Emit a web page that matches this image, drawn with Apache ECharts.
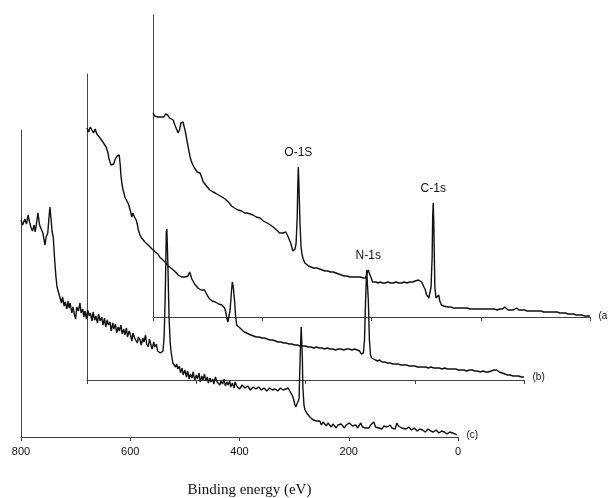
<!DOCTYPE html>
<html><head><meta charset="utf-8">
<script src="https://cdn.jsdelivr.net/npm/echarts@6/dist/echarts.min.js"></script>
<style>html,body{margin:0;padding:0;background:#fff}#c{width:608px;height:498px}</style>
</head><body><div id="c"></div>
<script>
// Binding energy axis ticks (eV)
const energyTicks = [0, 200, 400, 600, 800];
const traceNames = ['(a)', '(b)', '(c)'];

// [binding energy (eV), intensity (a.u.)]
const traceA = [[800,204],[797,201],[794,203],[791,200],[787,200],[784,202],[780,200],[777,203],[773,202],[770,199],[767,200],[763,197],[760,192],[757,188],[754,184],[751,188],[749,194],[747,196],[745,195],[743,194],[741,186],[738,177],[735,168],[732,160],[730,156],[727,152],[724,149],[722,147],[719,145],[716,146],[714,144],[711,140],[708,135],[705,133],[702,131],[699,129],[696,127],[693,126],[690,125],[686,124],[683,123],[680,122],[677,122],[674,120],[671,119],[668,118],[665,117],[662,115],[659,114],[656,111],[654,110],[651,109],[648,108],[644,107],[641,107],[638,106],[635,105],[632,104],[628,104],[625,103],[622,103],[619,102],[617,102],[614,101],[611,100],[608,100],[604,99],[601,97],[598,96],[595,95],[591,94],[588,93],[585,92],[582,91],[580,90],[577,88],[574,87],[571,86],[568,84],[565,85],[562,84],[559,86],[557,85],[554,82],[551,80],[548,74],[546,70],[544,66],[542,64],[540,68],[538,74],[536,100],[535,130],[534,150],[533,135],[531,95],[529,70],[527,62],[525,58],[522,54],[519,52],[515,51],[511,50],[506,49],[500,49],[495,48],[490,47],[485,46],[480,46],[475,45],[470,45],[465,44],[460,43],[455,42],[450,41],[445,41],[440,40],[435,40],[430,40],[425,40],[420,40],[415,39],[411,39],[408,38],[406,47],[404,44],[402,41],[400,39],[398,35],[396,34],[392,35],[388,34],[384,35],[380,34],[375,34],[370,35],[365,34],[360,34],[355,35],[350,34],[345,34],[340,35],[335,34],[330,35],[325,35],[320,36],[317,35],[314,37],[311,37],[308,35],[305,31],[302,28],[299,22],[297,20],[295,19],[293,21],[291,30],[289,60],[288,100],[287,114],[286,95],[285,60],[284,30],[282,19],[279,20],[277,22],[275,16],[272,12],[268,11],[265,10],[260,10],[255,10],[250,9],[245,9],[240,9],[235,9],[230,9],[225,9],[220,8],[215,8],[210,8],[205,8],[200,8],[195,8],[190,8],[185,8],[180,8],[175,8],[170,7],[165,8],[160,8],[156,10],[153,8],[150,7],[145,7],[140,7],[134,9],[130,7],[125,7],[120,7],[115,6],[110,6],[105,6],[100,6],[95,6],[90,6],[85,5],[80,5],[75,5],[70,5],[65,5],[60,5],[55,4],[50,4],[45,4],[40,3],[35,3],[30,3],[25,2],[20,2],[15,2],[10,1],[5,1],[0,1]];

const traceB = [[800,252],[797,248],[794,253],[791,250],[788,247],[785,251],[782,246],[779,244],[776,242],[773,240],[771,238],[768,236],[765,233],[762,228],[760,222],[758,218],[756,215],[754,213],[751,216],[749,220],[747,222],[745,224],[743,226],[741,225],[739,214],[738,205],[736,196],[734,190],[732,186],[730,182],[728,180],[725,177],[723,174],[720,168],[718,163],[716,167],[714,164],[712,162],[710,160],[708,156],[706,150],[703,145],[700,142],[697,140],[694,138],[691,136],[688,135],[685,133],[681,131],[678,130],[675,128],[672,127],[670,126],[667,123],[664,122],[661,120],[657,118],[654,116],[651,114],[648,113],[644,111],[641,109],[638,108],[635,107],[633,105],[630,104],[627,103],[624,103],[621,103],[618,101],[615,104],[612,108],[610,106],[608,101],[606,99],[603,96],[600,95],[597,92],[594,91],[591,90],[588,88],[585,90],[582,87],[580,86],[577,82],[574,80],[571,79],[568,81],[565,78],[562,77],[559,76],[556,76],[553,75],[550,73],[548,72],[546,68],[544,62],[542,58],[540,60],[538,70],[536,85],[534,98],[532,92],[530,80],[528,64],[526,55],[524,53],[520,52],[516,50],[512,48],[508,47],[504,46],[500,45],[495,44],[490,43],[485,43],[480,42],[475,42],[470,41],[465,40],[460,40],[455,39],[450,38],[445,38],[440,37],[435,37],[430,36],[425,36],[420,35],[415,35],[410,34],[405,34],[400,34],[395,33],[390,33],[385,32],[380,33],[375,32],[370,32],[365,31],[360,32],[355,31],[350,31],[345,30],[340,31],[335,31],[330,30],[325,31],[320,31],[315,30],[310,31],[305,30],[301,29],[298,26],[296,24],[294,27],[292,40],[290,80],[288,110],[286,112],[285,80],[283,40],[281,25],[279,22],[276,21],[272,20],[268,19],[264,20],[260,18],[255,18],[250,17],[245,17],[240,16],[235,16],[230,16],[225,15],[220,15],[215,15],[210,14],[205,14],[200,14],[195,13],[190,13],[185,13],[180,13],[175,12],[170,13],[165,12],[160,12],[155,12],[150,11],[145,12],[140,11],[135,11],[130,11],[125,11],[120,10],[115,10],[110,10],[105,9],[100,10],[95,10],[90,9],[85,9],[80,8],[75,9],[70,8],[65,8],[60,9],[55,10],[50,10],[45,8],[40,7],[35,6],[30,5],[25,5],[20,4],[15,4],[10,4],[5,3],[0,3]];

const traceC = [[800,217],[797,212],[793,218],[790,213],[787,222],[784,214],[782,210],[779,206],[776,212],[774,205],[771,216],[769,224],[766,212],[763,214],[760,204],[758,198],[756,192],[754,200],[751,204],[749,218],[747,230],[745,218],[743,205],[741,200],[738,174],[736,160],[734,150],[731,144],[729,140],[726,134],[724,140],[721,131],[719,135],[716,128],[714,136],[712,129],[710,134],[707,124],[705,130],[702,122],[700,118],[698,130],[695,126],[692,134],[690,124],[687,128],[685,120],[683,126],[680,118],[678,127],[675,121],[673,124],[670,116],[668,125],[665,117],[663,121],[660,114],[658,123],[655,116],[652,120],[650,112],[647,119],[645,110],[642,117],[640,112],[637,115],[635,106],[632,114],[630,108],[627,113],[625,104],[622,110],[620,106],[617,112],[615,103],[612,108],[610,102],[607,109],[605,100],[602,106],[600,103],[597,96],[595,104],[592,99],[590,101],[587,94],[585,100],[582,97],[580,92],[577,99],[575,95],[572,102],[570,93],[567,90],[565,98],[562,92],[560,88],[557,95],[555,90],[552,93],[550,86],[547,88],[545,84],[542,82],[540,86],[538,100],[536,140],[534,205],[533,208],[531,170],[529,120],[527,95],[525,84],[522,74],[520,76],[517,70],[515,73],[513,68],[510,71],[508,64],[505,69],[503,62],[500,67],[497,60],[495,66],[492,58],[490,63],[487,59],[485,65],[482,57],[479,62],[477,58],[474,64],[472,55],[469,61],[467,57],[464,63],[462,56],[459,60],[457,54],[454,59],[452,55],[449,58],[447,53],[444,60],[441,55],[439,57],[436,52],[434,56],[431,53],[428,58],[426,51],[423,55],[421,52],[418,56],[416,50],[413,54],[410,49],[408,55],[405,51],[403,53],[400,48],[395,52],[390,49],[385,51],[380,47],[375,50],[370,48],[365,50],[360,47],[355,49],[350,46],[345,49],[340,47],[335,48],[330,46],[325,49],[320,47],[315,48],[311,49],[308,46],[305,45],[302,40],[299,33],[297,30],[294,32],[291,38],[289,80],[287,110],[285,80],[284,50],[282,32],[280,27],[277,24],[274,22],[271,20],[268,21],[265,17],[262,19],[259,16],[256,14],[253,16],[250,12],[247,15],[244,13],[241,11],[238,14],[235,12],[232,10],[229,13],[226,11],[223,9],[220,12],[217,10],[214,13],[211,11],[208,9],[205,12],[202,10],[199,14],[196,15],[193,11],[190,10],[187,12],[184,9],[181,11],[178,14],[175,10],[172,12],[169,9],[166,11],[163,9],[160,12],[157,14],[154,15],[151,10],[148,11],[145,9],[142,10],[139,8],[136,11],[133,9],[130,10],[127,8],[124,12],[121,9],[118,10],[115,8],[112,14],[109,11],[106,10],[103,9],[100,11],[95,8],[90,10],[85,7],[80,9],[75,6],[70,8],[65,7],[60,5],[55,8],[50,6],[45,5],[40,7],[35,4],[30,6],[25,5],[20,3],[15,5],[10,4],[5,3],[2,2]];

// Peak annotations on trace (a)
const peakNames = ['O-1S', 'N-1s', 'C-1s'];
const peakEnergies = [534, 406, 287];
const peakIntensities = [150, 47, 114];

const traces = [traceA, traceB, traceC];
const gridBoxes = [
  {left: 153, top: 15, width: 437, height: 302},
  {left: 87, top: 74, width: 437, height: 306},
  {left: 21, top: 130, width: 437, height: 307}
];
const sansFont = '"Liberation Sans", Arial, sans-serif';
const serifFont = '"Liberation Serif", "Times New Roman", serif';
const axisColor = '#444';

const chart = echarts.init(document.getElementById('c'), null, {renderer: 'canvas'});

const xAxes = gridBoxes.map((g, i) => ({
  type: 'value', gridIndex: i, min: energyTicks[0], max: energyTicks[energyTicks.length - 1],
  interval: 200, inverse: true,
  axisLine: {show: true, onZero: false, lineStyle: {color: axisColor, width: 1}},
  axisTick: {show: true, length: 4, lineStyle: {color: axisColor}},
  axisLabel: {show: i === 2, color: '#111', fontFamily: sansFont, fontSize: 11, margin: 9},
  splitLine: {show: false},
  name: i === 2 ? 'Binding energy (eV)' : '',
  nameLocation: 'middle', nameGap: 46,
  nameTextStyle: {fontFamily: serifFont, fontSize: 15, color: '#111', padding: [0, 0, 0, 20]}
}));
const yAxes = gridBoxes.map((g, i) => ({
  type: 'value', gridIndex: i, min: 0, max: g.height, position: 'left',
  axisLine: {show: true, onZero: false, lineStyle: {color: axisColor, width: 1}},
  axisTick: {show: false}, axisLabel: {show: false}, splitLine: {show: false}
}));

const series = traces.map((t, i) => {
  const last = t[t.length - 1];
  const marks = [{name: traceNames[i], coord: [0, last[1]],
    label: {position: 'right', distance: 8, fontSize: 10}}];
  if (i === 0) {
    peakNames.forEach((n, k) => marks.push({name: n, coord: [peakEnergies[k], peakIntensities[k]]}));
  }
  return {
    type: 'line', xAxisIndex: i, yAxisIndex: i, data: t, showSymbol: false, clip: false,
    lineStyle: {color: '#111', width: 1.4}, animation: false,
    markPoint: {
      symbol: 'circle', symbolSize: 1, itemStyle: {color: 'rgba(0,0,0,0)'},
      label: {show: true, position: 'top', distance: 8, color: '#111', fontFamily: sansFont, fontSize: 12, formatter: p => p.name},
      data: marks
    }
  };
});

chart.setOption({
  backgroundColor: '#fff',
  animation: false,
  grid: gridBoxes.map(g => Object.assign({containLabel: false, outerBoundsMode: 'none'}, g)),
  xAxis: xAxes,
  yAxis: yAxes,
  series: series
});
</script>
</body></html>
